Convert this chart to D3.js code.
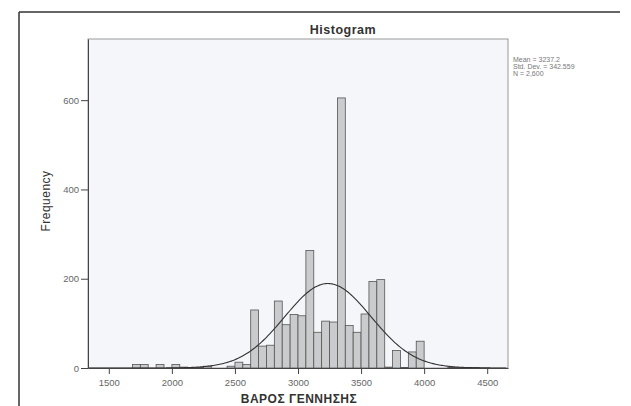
<!DOCTYPE html>
<html>
<head>
<meta charset="utf-8">
<script src="https://cdn.jsdelivr.net/npm/d3@7"></script>
<style>
  body { margin: 0; background: #fff; }
  svg { display: block; font-family: "Liberation Sans", Arial, sans-serif; }
</style>
</head>
<body>
<svg id="hist_svg" width="631" height="406"></svg>
<script>
// bin lower edges (grams) and counts
const binLow = [1687.5, 1750, 1875, 2000, 2062.5, 2125, 2187.5, 2250, 2437.5, 2500, 2562.5,
                2625, 2687.5, 2750, 2812.5, 2875, 2937.5, 3000, 3062.5, 3125, 3187.5, 3250,
                3312.5, 3375, 3437.5, 3500, 3562.5, 3625, 3687.5, 3750, 3812.5, 3875, 3937.5,
                4187.5, 4250, 4312.5, 4375];
const freq   = [8, 8, 8, 8, 2, 1, 1, 4, 4, 13, 8,
                130, 49, 51, 150, 97, 120, 117, 263, 80, 105, 103,
                605, 95, 80, 121, 194, 198, 2, 39, 1, 36, 60,
                1, 1, 1, 1];
const binWidth = 62.5;
const xTicks = [1500, 2000, 2500, 3000, 3500, 4000, 4500];
const yTicks = [0, 200, 400, 600];
const statLines = ["Mean = 3237.2", "Std. Dev. = 342.559", "N = 2,600"];
const mean = 3237.2, sd = 342.559, nTotal = 2600;

const svg = d3.select("#hist_svg");
const plot = { left: 88, right: 508, top: 39, bottom: 368 };

// scanned page frame: top and left edges
svg.append("line").attr("x1", 19).attr("x2", 620).attr("y1", 12).attr("y2", 12)
    .attr("stroke", "#333").attr("stroke-width", 1.5);
svg.append("line").attr("x1", 19).attr("x2", 19).attr("y1", 12).attr("y2", 406)
    .attr("stroke", "#333").attr("stroke-width", 1.5);

const xScale = d3.scaleLinear().domain([1335, 4665]).range([plot.left, plot.right]);
const yScale = d3.scaleLinear().domain([0, 737]).range([plot.bottom, plot.top]);

// plot background
svg.append("rect")
    .attr("x", plot.left).attr("y", plot.top)
    .attr("width", plot.right - plot.left).attr("height", plot.bottom - plot.top)
    .attr("fill", "#f5f6f9").attr("stroke", "#999").attr("stroke-width", 1);

const data = binLow.map((b, i) => ({ x0: b, x1: b + binWidth, n: freq[i] }));

svg.append("g").selectAll("rect")
    .data(data)
    .join("rect")
    .attr("x", d => xScale(d.x0))
    .attr("y", d => yScale(d.n))
    .attr("width", d => xScale(d.x1) - xScale(d.x0))
    .attr("height", d => yScale(0) - yScale(d.n))
    .attr("fill", "#c9cbcd")
    .attr("stroke", "#555")
    .attr("stroke-width", 0.8);

// fitted normal curve from the stats shown in the legend
const curveX = d3.range(1340, 4660, 10);
const curve = curveX.map(v => [v, nTotal * binWidth / (sd * Math.sqrt(2 * Math.PI)) *
                                   Math.exp(-0.5 * Math.pow((v - mean) / sd, 2))]);
svg.append("path")
    .datum(curve)
    .attr("fill", "none")
    .attr("stroke", "#333")
    .attr("stroke-width", 1.1)
    .attr("d", d3.line().x(d => xScale(d[0])).y(d => yScale(d[1])));

// axes
const xAxis = d3.axisBottom(xScale).tickValues(xTicks).tickFormat(d3.format("d"))
    .tickSize(6).tickSizeOuter(0);
const gx = svg.append("g").attr("transform", `translate(0,${plot.bottom})`).call(xAxis);
gx.select(".domain").attr("stroke", "#444");
gx.selectAll(".tick line").attr("stroke", "#444");
gx.selectAll(".tick text").attr("fill", "#666").attr("font-size", 9.5).attr("dy", "0.9em");

const yAxis = d3.axisLeft(yScale).tickValues(yTicks).tickFormat(d3.format("d"))
    .tickSize(7).tickSizeOuter(0);
const gy = svg.append("g").attr("transform", `translate(${plot.left},0)`).call(yAxis);
gy.select(".domain").attr("stroke", "#444");
gy.selectAll(".tick line").attr("stroke", "#444");
gy.selectAll(".tick text").attr("fill", "#666").attr("font-size", 9.5).attr("x", -9);

// titles
svg.append("text").attr("x", 343).attr("y", 34).attr("text-anchor", "middle")
    .attr("font-size", 12.5).attr("font-weight", "bold").attr("fill", "#333")
    .attr("letter-spacing", 0.5)
    .text("Histogram");
svg.append("text").attr("x", 299).attr("y", 403).attr("text-anchor", "middle")
    .attr("font-size", 12).attr("font-weight", "bold").attr("fill", "#333")
    .attr("letter-spacing", 0.5)
    .text("ΒΑΡΟΣ ΓΕΝΝΗΣΗΣ");
svg.append("text").attr("transform", "translate(50,201) rotate(-90)")
    .attr("text-anchor", "middle").attr("font-size", 12).attr("fill", "#333")
    .attr("letter-spacing", 0.5)
    .text("Frequency");

svg.append("g").selectAll("text")
    .data(statLines)
    .join("text")
    .attr("x", 513)
    .attr("y", (d, i) => 62 + i * 7)
    .attr("font-size", 7)
    .attr("fill", "#777")
    .text(d => d);
</script>
</body>
</html>
